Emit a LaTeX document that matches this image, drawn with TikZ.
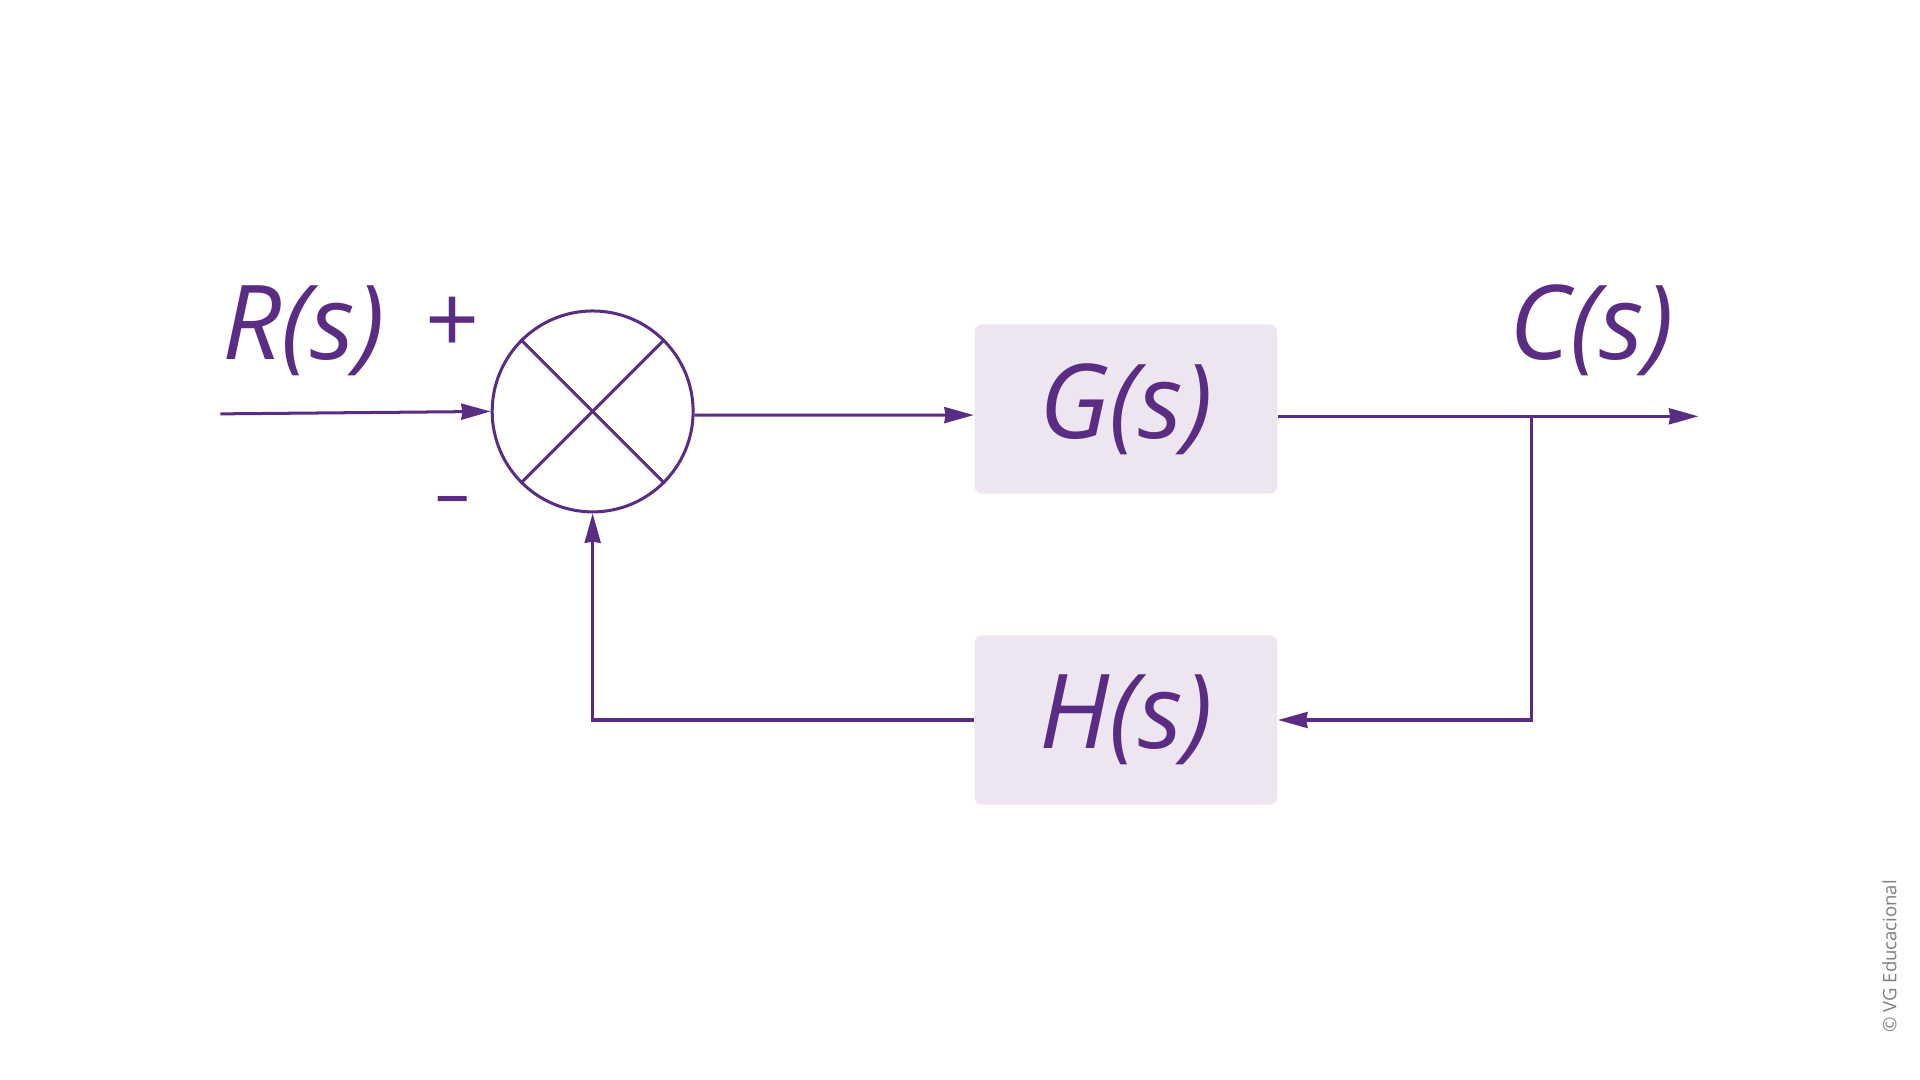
\documentclass[tikz,border=0pt]{standalone}
\usepackage{fontspec}
\setmainfont{Open Sans}
\usetikzlibrary{arrows.meta}
\definecolor{lila}{HTML}{5B2C83}
\definecolor{boxfill}{HTML}{EDE6F1}
\begin{document}
\begin{tikzpicture}[x=0.01cm,y=-0.01cm,
    line/.style={lila, line width=0.7pt},
    arr/.style={line, -{Stealth[length=0.24cm,width=0.13cm,inset=0.01cm]}},
    block/.style={fill=boxfill, rounded corners=0.06cm, minimum width=2.47cm, minimum height=1.38cm,
        text=lila, font=\itshape\fontsize{24}{28}\selectfont},
    lbl/.style={text=lila, font=\itshape\fontsize{24}{28}\selectfont},
    sign/.style={text=lila, font=\fontsize{22}{26}\selectfont}]
    \useasboundingbox[fill=white] (0,0) rectangle (1568,882);

    \node[circle, draw=lila, line width=0.7pt, minimum size=1.64cm, inner sep=0pt] (sum) at (484,336) {};
    \draw[line] (sum.45) -- (sum.225);
    \draw[line] (sum.135) -- (sum.315);

    \node[block] (G) at (919.5,334) {G(s)};
    \node[block] (H) at (919.5,588) {H(s)};

    \coordinate (in) at (180,338);
    \coordinate (out) at (1387,340);
    \coordinate (branch) at (1251,340);
    \coordinate (corner) at (1251,588);
    \coordinate (back) at (484,588);

    \node[lbl] (R) at (248,270) {R(s)};
    \node[lbl] (C) at (1300,270) {C(s)};
    \node[sign] (plus) at (370,266) {+};
    \node[sign, font=\fontsize{16}{20}\selectfont] (minus) at (370,414) {\textendash};

    \draw[arr] (in) -- (sum.west);
    \draw[arr] (sum.east |- G.west) ++(0,5) -- ([yshift=-0.05cm]G.west);
    \draw[arr] (G.east |- branch) -- (out);
    \draw[arr] (branch) -- (corner) -- (H.east);
    \draw[arr] (H.west) -- (back) -- (sum.south);

    \node[rotate=90, text=gray, font=\fontsize{4.3}{5}\selectfont] (copy) at (1543,781) {© VG Educacional};
\end{tikzpicture}
\end{document}
